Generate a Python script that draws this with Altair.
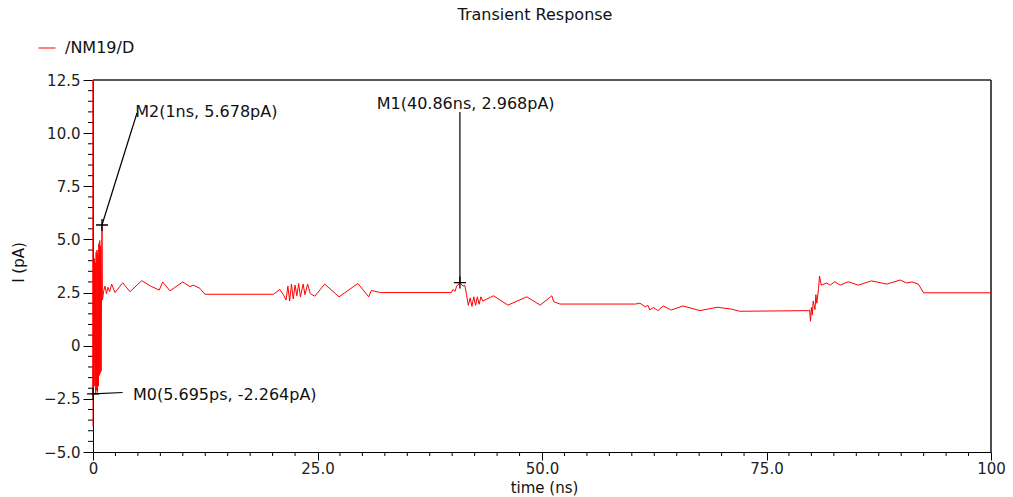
import altair as alt
import pandas as pd

# ---- waveform /NM19/D (time in ns, current in pA); 12.5 = off-scale top ----
time_ns = [0, 0.003, 0.005695, 0.05, 0.1, 0.15, 0.2, 0.25, 0.3, 0.35, 0.4, 0.45, 0.5,
           0.55, 0.6, 0.65, 0.7, 0.75, 0.8, 0.85, 0.9, 0.95, 1.0, 1.05, 1.2, 1.34, 1.5,
           1.67, 1.85, 2.08, 2.45, 3.31, 4.12, 5.42, 6.54, 7.38, 7.76, 8.57, 9.99, 10.8,
           11.17, 11.9, 12.47, 20.1, 20.8, 21.2, 21.5, 21.7, 21.9, 22.1, 22.3, 22.5, 22.7,
           22.9, 23.1, 23.4, 23.6, 23.9, 24.2, 24.7, 25.8, 27.4, 29.5, 30.7, 31.0, 32.0,
           39.9, 40.1, 40.3, 40.5, 40.86, 41.2, 41.4, 41.6, 41.8, 42.0, 42.2, 42.4, 42.6,
           42.8, 43.0, 43.2, 43.4, 44.6, 46.2, 48.3, 49.8, 51.1, 51.3, 52.0, 60.4, 60.9,
           61.5, 61.8, 62.0, 62.4, 62.9, 63.5, 64.4, 65.7, 67.6, 69.5, 71.1, 72.0, 79.7,
           79.8, 79.9, 80.0, 80.1, 80.2, 80.4, 80.5, 80.6, 80.8, 80.9, 81.1, 81.7, 82.1,
           82.6, 83.2, 84.1, 85.2, 86.7, 88.4, 89.9, 90.6, 91.2, 91.9, 92.5, 100]
current_pA = [-3.8, 12.5, -2.264, 4.0, -0.9, 4.1, -1.9, 3.9, -2.25, 4.4, -2.1, 4.5, -2.2,
              4.3, -1.9, 4.8, -1.4, 4.95, -1.3, 4.7, -1.2, 2.3, 5.678, 2.15, 2.6, 2.8, 2.45,
              2.75, 2.55, 2.9, 2.5, 2.96, 2.54, 3.06, 2.78, 2.62, 3.0, 2.58, 3.0, 2.78,
              2.85, 2.7, 2.42, 2.42, 2.65, 2.4, 2.15, 2.8, 2.1, 2.9, 2.2, 2.85, 2.35,
              2.93, 2.3, 2.9, 2.4, 2.9, 2.45, 2.33, 2.9, 2.3, 2.93, 2.3, 2.6, 2.5,
              2.5, 2.65, 2.55, 2.8, 2.968, 2.8, 2.85, 2.4, 1.9, 2.25, 1.85, 2.3, 1.9,
              2.3, 1.95, 2.3, 2.1, 2.35, 1.91, 2.3, 1.91, 2.35, 2.07, 1.96, 1.96, 2.0,
              1.83, 1.9, 1.68, 1.8, 1.65, 1.87, 1.68, 1.87, 1.65, 1.81, 1.72, 1.62, 1.65,
              1.68, 1.15, 1.8, 1.45, 2.1, 1.7, 2.4, 2.0, 2.7, 3.28, 2.85, 2.95, 2.85,
              3.01, 2.85, 3.01, 2.85, 3.05, 2.9, 3.09, 2.95, 3.0, 2.9, 2.49, 2.49]
series_name = "/NM19/D"

# ---- markers ----
marker_labels = ["M0(5.695ps, -2.264pA)", "M1(40.86ns, 2.968pA)", "M2(1ns, 5.678pA)"]
marker_t = [0.005695, 40.86, 1.0]
marker_v = [-2.264, 2.968, 5.678]
leader_t = [3.3, 40.86, 4.9]
leader_v = [-2.2, 10.99, 10.95]
label_t = [4.45, 31.6, 4.7]
label_v = [-2.32, 11.37, 10.99]

# ---- axis ticks ----
x_major = [0, 25, 50, 75, 100]
y_major = [-5, -2.5, 0, 2.5, 5, 7.5, 10, 12.5]
x_minor = [i * 2.5 for i in range(41) if i % 10 != 0]
y_minor = [-5 + i * 0.5 for i in range(36) if i % 5 != 0]

W, H = 898, 372
FONT = "DejaVu Sans"
FRAME = "#222222"

wave = pd.DataFrame({"t": time_ns, "v": current_pA, "series": series_name})
marks = pd.DataFrame({"t": marker_t, "v": marker_v, "t2": leader_t, "v2": leader_v,
                      "lt": label_t, "lv": label_v, "label": marker_labels})
xmin_df = pd.DataFrame({"t": x_minor})
ymin_df = pd.DataFrame({"v": y_minor})
frame_df = pd.DataFrame({"edge": ["frame"]})

xscale = alt.Scale(domain=[0, 100], nice=False, zero=False)
yscale = alt.Scale(domain=[-5, 12.5], nice=False, zero=False)

xaxis = alt.Axis(values=x_major, title="time (ns)", tickSize=8, labelPadding=1,
                 labelFlush=False, labelFontSize=15, zindex=0,
                 labelExpr="datum.value == 0 ? '0' : datum.value == 100 ? '100' : format(datum.value, '.1f')",
                 titleX=451, titleY=35, titleBaseline="middle", titleAlign="center")
yaxis = alt.Axis(values=y_major, title="I (pA)", tickSize=10, labelPadding=3,
                 labelFlush=False, labelFontSize=15, zindex=0,
                 labelExpr="datum.value == 0 ? '0' : format(datum.value, '.1f')",
                 titleX=-75, titleY=182, titleBaseline="middle", titleAlign="center",
                 titleAngle=270)

# plot frame: top and right edges (left/bottom are the axis lines)
top_edge = alt.Chart(frame_df).mark_rule(color=FRAME, strokeWidth=1.6).encode(
    x=alt.value(0), x2=alt.value(W), y=alt.value(0))
right_edge = alt.Chart(frame_df).mark_rule(color=FRAME, strokeWidth=1.6).encode(
    x=alt.value(W), y=alt.value(0), y2=alt.value(H))

line = alt.Chart(wave).mark_line(clip=False, strokeWidth=1, interpolate="linear").encode(
    x=alt.X("t:Q", scale=xscale, axis=xaxis),
    y=alt.Y("v:Q", scale=yscale, axis=yaxis),
    color=alt.Color("series:N",
                    scale=alt.Scale(domain=[series_name], range=["#ff0000"]),
                    legend=alt.Legend(orient="none", legendX=-55, legendY=-41, title=None,
                                      symbolType="stroke", symbolSize=289, symbolStrokeWidth=1,
                                      labelFontSize=16, labelFont=FONT, labelColor="#111111",
                                      labelOffset=9, padding=0)),
)

xminor = alt.Chart(xmin_df).mark_rule(color="black", strokeWidth=1).encode(
    x=alt.X("t:Q", scale=xscale, axis=xaxis),
    y=alt.value(H), y2=alt.value(H + 4),
)
yminor = alt.Chart(ymin_df).mark_rule(color="black", strokeWidth=1).encode(
    y=alt.Y("v:Q", scale=yscale, axis=yaxis),
    x=alt.value(-5), x2=alt.value(0),
)

leaders = alt.Chart(marks).mark_rule(color="black", strokeWidth=1.2).encode(
    x=alt.X("t:Q", scale=xscale, axis=xaxis), y=alt.Y("v:Q", scale=yscale, axis=yaxis),
    x2="t2:Q", y2="v2:Q",
)
crosses = alt.Chart(marks).mark_point(shape="M-1,0H1M0,-1V1", size=144, filled=False,
                                      color="black", strokeWidth=1.3, opacity=1).encode(
    x=alt.X("t:Q", scale=xscale, axis=xaxis), y=alt.Y("v:Q", scale=yscale, axis=yaxis),
)
labels = alt.Chart(marks).mark_text(align="left", baseline="middle", font=FONT,
                                    fontSize=16, color="#111111").encode(
    x=alt.X("lt:Q", scale=xscale, axis=xaxis), y=alt.Y("lv:Q", scale=yscale, axis=yaxis),
    text="label:N",
)

chart = alt.layer(top_edge, right_edge, xminor, yminor, line, leaders, crosses, labels).properties(
    width=W, height=H,
    background="white",
    autosize=alt.AutoSizeParams(type="none"),
    padding={"left": 93, "top": 80, "right": 22, "bottom": 45},
    title=alt.TitleParams("Transient Response", fontSize=16, font=FONT, fontWeight="normal",
                          anchor="middle", dx=-7, offset=16, color="#111111"),
).configure_view(strokeWidth=0).configure_axis(
    grid=False, domainColor="black", tickColor="black", labelColor="#222222",
    labelFont=FONT, labelFontSize=15, titleFont=FONT, titleFontSize=15,
    titleFontWeight="normal", titleColor="#111111",
)

chart.save("out.html", embed_options={"renderer": "svg", "actions": False})
